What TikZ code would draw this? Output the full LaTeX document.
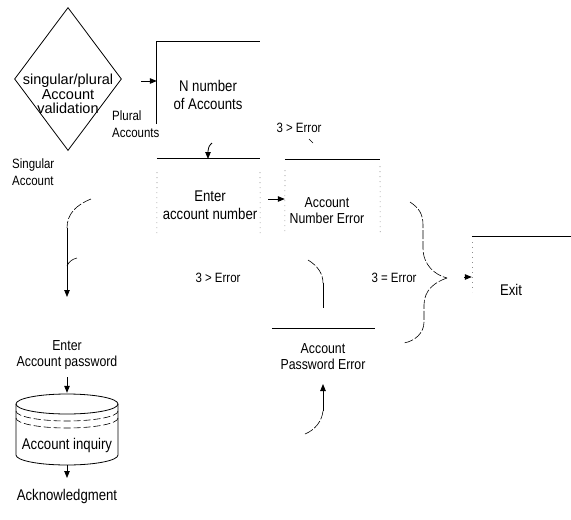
\documentclass[tikz,border=0pt]{standalone}
\usepackage{fontspec}
\setmainfont[FakeStretch=0.85]{Liberation Sans}
\newfontfamily\diafont{Liberation Sans}
\usetikzlibrary{arrows.meta,shapes.geometric}
\tikzset{
  lbl/.style={inner sep=0pt, align=center, text=black},
  fs/.style={font=\fontsize{13.5}{17}\selectfont},
  fm/.style={font=\fontsize{14.5}{16}\selectfont},
  fb/.style={font=\fontsize{15.5}{18}\selectfont},
  arr/.style={-{Triangle[length=7pt,width=5.5pt]}, line width=.8pt},
  edgeline/.style={line width=.8pt},
  faint/.style={line width=.6pt, dash pattern=on 9pt off 2pt},
  ghost/.style={line width=.6pt, black!45, dash pattern=on 1pt off 4pt},
  area/.style={inner sep=0pt, draw=none}
}
\begin{document}
\begin{tikzpicture}[x=1pt,y=-1pt]
\useasboundingbox (0,0) rectangle (571,520);

% decision diamond
\node[diamond, draw, line width=.8pt, minimum width=107pt, minimum height=143pt, inner sep=0pt] (val) at (68,79) {};
\node[lbl, font=\diafont\fontsize{14.5}{14.5}\selectfont] (valtxt) at (68,94) {singular/plural\\Account\\validation};
\node[lbl, fs, align=left, anchor=west] (single) at (12,172) {Singular\\Account};
\node[lbl, fs, align=left, anchor=west] (plural) at (112,124) {Plural\\Accounts};

% N number of accounts
\node[area, minimum width=103pt, minimum height=82pt] (nbox) at (208.5,83) {};
\draw[edgeline] (nbox.south west) -- (nbox.north west) -- (nbox.north east);
\node[lbl, fb] (ntxt) at (208,95) {N number\\of Accounts};
\coordinate (pa) at (141,81);
\draw[arr] (pa) -- (pa -| nbox.west);

% enter account number
\node[area, minimum width=103pt, minimum height=76pt] (ebox) at (208.5,197) {};
\draw[edgeline] (ebox.north west) -- (ebox.north east);
\draw[ghost] (157,172) -- (ebox.south west);
\draw[ghost] (260,172) -- (ebox.south east);
\node[lbl, fb] (etxt) at (210,205) {Enter\\account number};
\coordinate (ea) at (212,143);
\draw[arr] (ea) .. controls (209,146) .. (208,151) -- (208,159);

% account number error
\node[area, minimum width=95pt, minimum height=72pt] (anbox) at (332.5,196) {};
\draw[edgeline] (anbox.north west) -- (anbox.north east);
\draw[ghost] (285,170) -- (anbox.south west);
\draw[ghost] (380,166) -- (anbox.south east);
\node[lbl, fm] (antxt) at (327,211) {Account\\Number Error};
\coordinate (eb) at (268,199);
\draw[arr] (eb) -- (eb -| anbox.west);

\node[lbl, fs] (err1) at (299,128) {3 > Error};
\draw[line width=.6pt] (309,139) -- (313,143);

% brace to exit
\coordinate (bt) at (447,278);
\draw[faint] (410,202) .. controls (419,208) and (423,214) .. (423,225)
  -- (423,248) .. controls (423,265) and (435,275) .. (bt);
\draw[faint] (bt) .. controls (435,282) and (424,290) .. (424,305)
  -- (424,322) .. controls (424,333) and (415,341) .. (404,343);
\node[lbl, fs] (err3) at (394,278) {3 = Error};

% exit
\node[area, minimum width=99pt, minimum height=60pt] (exit) at (521.5,267) {};
\draw[edgeline] (exit.north west) -- (exit.north east);
\draw[ghost] (472,242) -- (472,292);
\node[lbl, fb] (exittxt) at (511,290) {Exit};
\coordinate (xa) at (464,277);
\draw[arr] (xa) -- (xa -| exit.west);

% account password error
\node[area, minimum width=103pt, minimum height=60pt] (pbox) at (323.5,359) {};
\draw[edgeline] (pbox.north west) -- (pbox.north east);
\node[lbl, fm] (ptxt) at (323,357) {Account\\Password Error};
\draw[edgeline] (323,283) -- (323,308);
\draw[faint] (308,260) .. controls (318,266) and (323,274) .. (323,283);
\coordinate (pu) at (323,411);
\draw[arr] (pu) -- (323,384);
\draw[faint] (305,434) .. controls (315,430) and (322,421) .. (pu);
\node[lbl, fs] (err2) at (218,278) {3 > Error};

% singular path
\draw[faint] (91,199) .. controls (76,205) and (67,214) .. (67,228);
\draw[arr] (67,228) -- (67,297);
\draw[line width=.6pt] (67,266) .. controls (69,261) and (73,259) .. (77,258);
\node[lbl, fm] (pwtxt) at (67,355) {Enter\\Account password};

% account inquiry cylinder
\node[area, minimum width=102pt, minimum height=72pt] (cyl) at (67,429) {};
\draw[edgeline] (16,404) arc[start angle=180, end angle=-180, x radius=51pt, y radius=10pt];
\draw[edgeline] (16,404) -- (16,455) arc[start angle=180, end angle=360, x radius=51pt, y radius=10pt] -- (118,404);
\draw[line width=.6pt, dash pattern=on 7pt off 3pt] (16,411) arc[start angle=180, end angle=360, x radius=51pt, y radius=10pt];
\draw[line width=.6pt, dash pattern=on 7pt off 3pt] (16,418) arc[start angle=180, end angle=360, x radius=51pt, y radius=10pt];
\node[lbl, fb] (cyltxt) at (67,445) {Account inquiry};
\coordinate (ci) at (67,377);
\draw[arr] (ci) -- (cyl.north);
\coordinate (co) at (67,478);
\draw[arr] (cyl.south) -- (co);
\node[lbl, fb] (ack) at (67,496) {Acknowledgment};
\end{tikzpicture}
\end{document}
